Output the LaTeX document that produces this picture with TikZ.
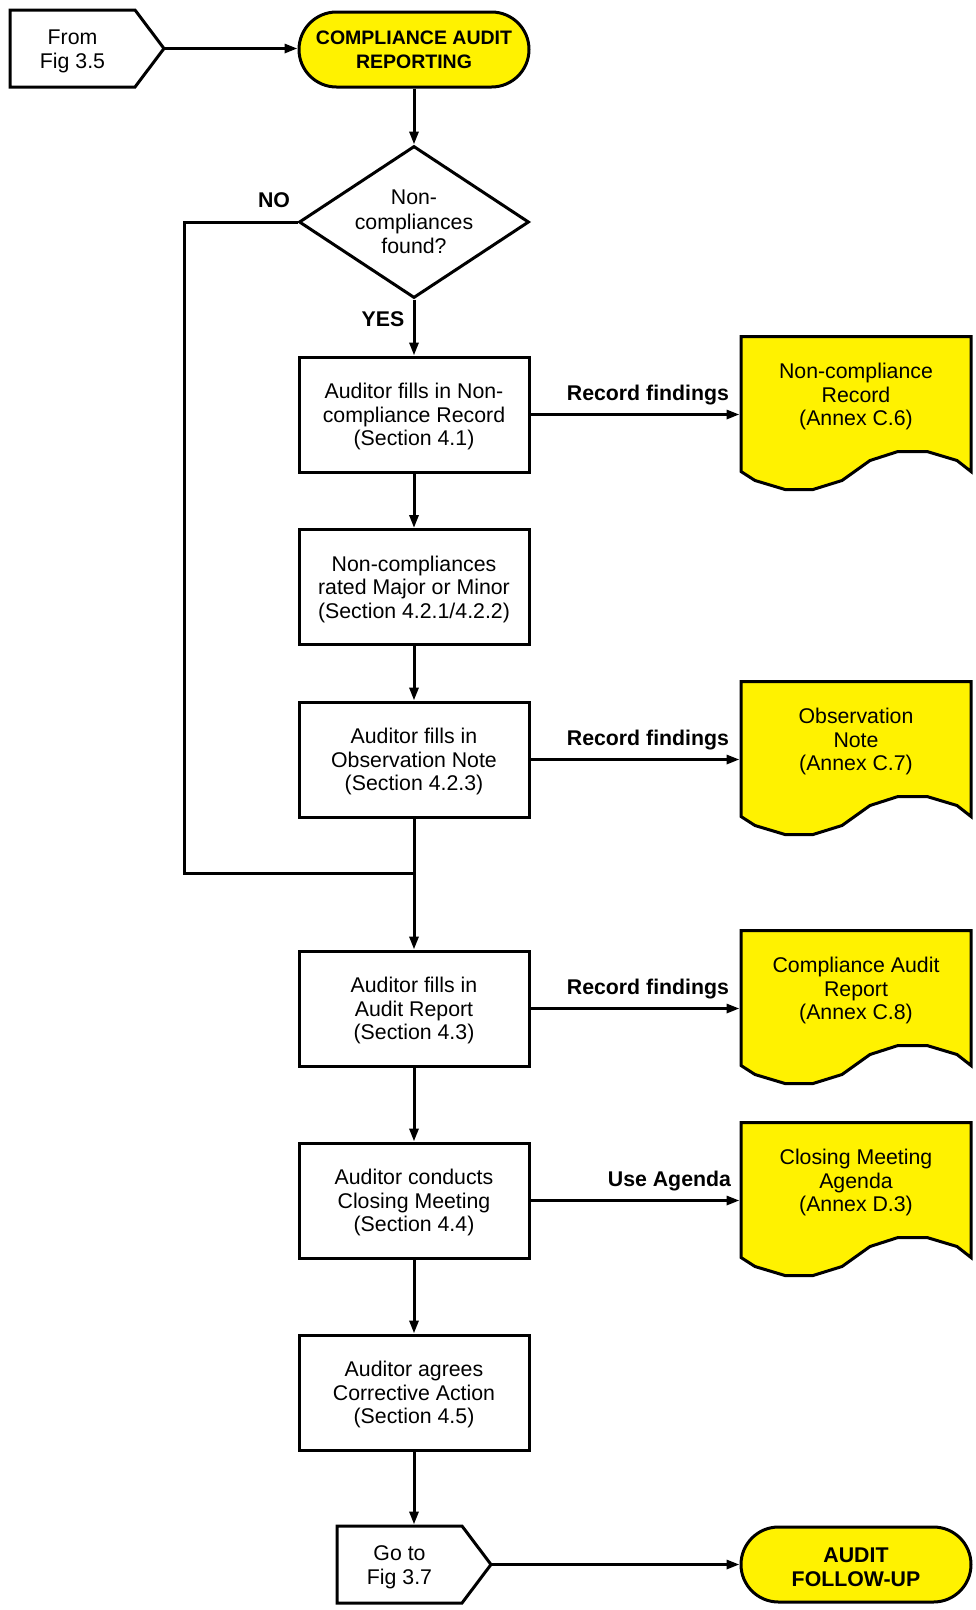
\documentclass[tikz,border=0pt]{standalone}
\usepackage{fontspec}
\setmainfont{Liberation Sans}
\usetikzlibrary{arrows.meta,shapes.geometric,calc}
\newcommand\bodysize{\fontsize{21.3pt}{23.6pt}\selectfont}
\newcommand\startsize{\fontsize{19.5pt}{23.6pt}\selectfont}

% yellow document sheet with a wavy lower edge; #1 name, #2 left, #3 top, #4 text
\newcommand\docsheet[4]{%
  \begin{scope}[shift={(#2,#3)}]
    \draw[docfill] (0,0) -- (230,0) -- (230,135) -- (216,124) -- (186,115) -- (157,115)
      -- (129,124) -- (101,144) -- (72,153) -- (44,153) -- (14,144) -- (0,135) -- cycle;
    \node[minimum width=230pt, outer sep=1.5pt, text depth=0pt] (#1) at (115,58) {#4};
  \end{scope}}

% off-page connector (pointing right); #1 name, #2 left, #3 top, #4 text
\newcommand\offpagebox[4]{%
  \begin{scope}[shift={(#2,#3)}]
    \draw[offpage] (0,0) -- (125,0) -- (154,38.5) -- (125,77) -- (0,77) -- cycle;
    \node[yshift=-3pt] (#1) at (62.5,38.5) {#4};
    \coordinate (#1-tip) at (155,38.5);
    \coordinate (#1-top) at (77,-1.5);
  \end{scope}}

\begin{document}
\begin{tikzpicture}[x=1pt,y=-1pt,
  every node/.style={font=\bodysize, align=center, inner sep=0pt},
  edge/.style={line width=3pt},
  flow/.style={edge, -{Triangle[length=13pt,width=9pt]}},
  proc/.style={draw, line width=3pt, minimum width=230pt, minimum height=115pt,
    text depth=0pt, yshift=-1pt},
  term/.style={draw, fill=yellow, line width=3pt, rounded corners=37.5pt,
    minimum width=230pt, minimum height=75pt, font=\bodysize\bfseries},
  decision/.style={draw, diamond, aspect=1.5, line width=3pt,
    minimum width=230pt, minimum height=152pt},
  lbl/.style={font=\bodysize\bfseries},
  docfill/.style={draw, fill=yellow, line width=3pt, line join=miter},
  offpage/.style={draw, fill=white, line width=3pt, line join=miter},
]
\fill[white] (0,0) rectangle (976,1610);
\useasboundingbox (0,0) rectangle (976,1610);

% start of the procedure
\offpagebox{from}{10}{10}{From\\Fig 3.5}
\node[term, font=\startsize\bfseries] (start) at (414,49.5) {COMPLIANCE AUDIT\\REPORTING};

% main column
\node[decision, font=\fontsize{21.3pt}{24.5pt}\selectfont] (dec) at (414,222) {Non-\\compliances\\found?};
\node[proc] (box1) at (414,413.5) {Auditor fills in Non-\\compliance Record\\(Section 4.1)};
\node[proc] (box2) at (414,586) {Non-compliances\\rated Major or Minor\\(Section 4.2.1/4.2.2)};
\node[proc] (box3) at (414,758.5) {Auditor fills in\\Observation Note\\(Section 4.2.3)};
\node[proc] (box4) at (414,1007.5) {Auditor fills in\\Audit Report\\(Section 4.3)};
\node[proc] (box5) at (414,1199.5) {Auditor conducts\\Closing Meeting\\(Section 4.4)};
\node[proc] (box6) at (414,1391.5) {Auditor agrees\\Corrective Action\\(Section 4.5)};

% records produced along the way
\docsheet{doc1}{741}{336.5}{Non-compliance\\Record\\(Annex C.6)}
\docsheet{doc2}{741}{681.5}{Observation\\Note\\(Annex C.7)}
\docsheet{doc3}{741}{930.5}{Compliance Audit\\Report\\(Annex C.8)}
\docsheet{doc4}{741}{1122.5}{Closing Meeting\\Agenda\\(Annex D.3)}

% end of the procedure
\offpagebox{goto}{337}{1526}{Go to\\Fig 3.7}
\node[term, text height=43pt, text depth=0pt] (finish) at (856,1564.5) {AUDIT\\FOLLOW-UP};

% decision labels
\node[lbl] (nolbl) at (274,200) {NO};
\node[lbl] (yeslbl) at (383,319) {YES};

% connectors
\draw[flow] (from-tip) -- (from-tip -| start.west);
\draw[flow] (start.south) -- (dec.north);
\draw[flow] (dec.south) -- (box1.north);
\draw[flow] (box1) -- (box2);
\draw[flow] (box2) -- (box3);
\coordinate (loopturn) at (184,873);
\coordinate (loopjoin) at (414,873);
\draw[edge, line join=miter] (dec.west) -| (loopturn) -- (loopjoin);
\draw[flow] (box3) -- (box4);
\draw[flow] (box4) -- (box5);
\draw[flow] (box5) -- (box6);
\draw[flow] (box6.south) -- (box6.south |- goto-top);
\draw[flow] (goto-tip) -- (goto-tip -| finish.west);

\draw[flow] (box1.east) -- (box1.east -| doc1.west)
  node[lbl, anchor=base east, xshift=-9pt, yshift=14pt] (lbl1) {Record findings};
\draw[flow] (box3.east) -- (box3.east -| doc2.west)
  node[lbl, anchor=base east, xshift=-9pt, yshift=14pt] (lbl2) {Record findings};
\draw[flow] (box4.east) -- (box4.east -| doc3.west)
  node[lbl, anchor=base east, xshift=-9pt, yshift=14pt] (lbl3) {Record findings};
\draw[flow] (box5.east) -- (box5.east -| doc4.west)
  node[lbl, anchor=base east, xshift=-7pt, yshift=14pt] (lbl4) {Use Agenda};
\end{tikzpicture}
\end{document}
